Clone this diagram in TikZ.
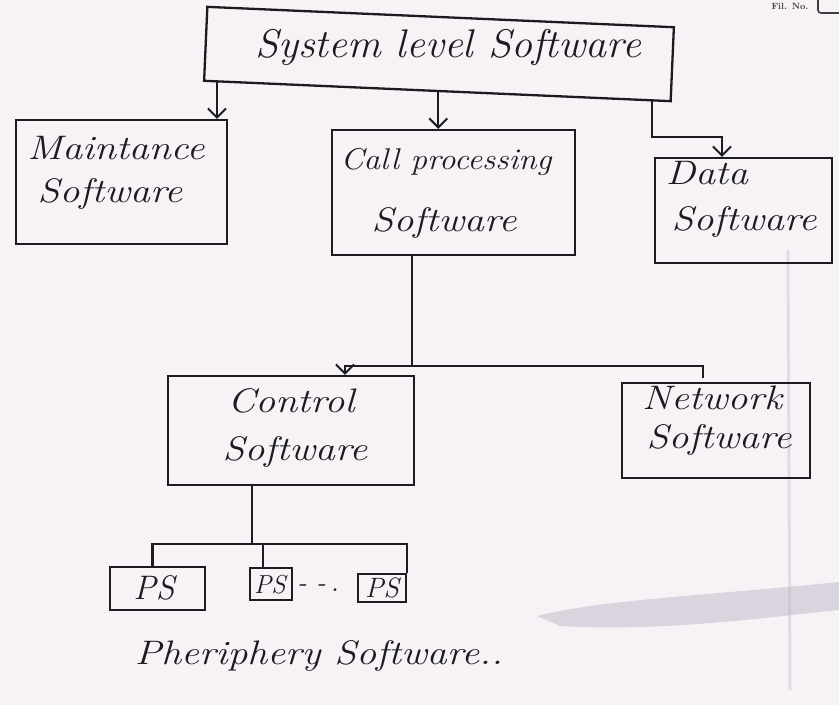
\documentclass[tikz,border=0pt]{standalone}
\usetikzlibrary{arrows.meta,calc}
\definecolor{paper}{HTML}{F6F2F6}
\definecolor{ink}{HTML}{1C1C20}
\definecolor{smudge}{HTML}{B8B0C2}
\definecolor{fold}{HTML}{E2DAE4}
% widened italic lettering
\newcommand\handwide[2][1.17]{\scalebox{#1}[1]{#2}}
\tikzset{
  hand/.style={font=\itshape\fontsize{34}{40}\selectfont, text=ink, inner sep=0pt, anchor=mid},
  box/.style={draw=ink, line width=2.3pt, rectangle, inner sep=0pt},
  wire/.style={draw=ink, line width=2.1pt},
  arr/.style={wire, -{Straight Barb[length=9pt,width=18pt,line width=2pt]}},
  pstext/.style={font=\itshape\fontsize{#1}{#1}\selectfont, text=ink, inner sep=0pt},
}
\begin{document}
\begin{tikzpicture}[x=1pt,y=-1pt]
% paper
\fill[paper] (0,0) rectangle (839,705);
\useasboundingbox (0,0) rectangle (839,705);

% scanner marks on the sheet
\draw[fold, line width=3pt] (788,250) -- (790,690);
\fill[smudge, opacity=0.45] (537,616) .. controls (600,600) and (700,596) .. (839,582)
  -- (839,610) .. controls (760,618) and (660,632) .. (560,626) -- cycle;

% page header
\node[font=\bfseries\fontsize{9}{10}\selectfont, text=ink!85, inner sep=0pt] (fileno) at (790,6) {Fil. No.};
\draw[ink!85, line width=1.6pt, rounded corners=3pt] (818,0) -- (818,13) -- (839,13);

% boxes
\node[box, minimum width=467pt, minimum height=74pt, rotate=-2.5] (sys) at (439,54) {};
\node[box, minimum width=211pt, minimum height=124pt] (mt) at (121.5,182) {};
\node[box, minimum width=243pt, minimum height=125pt] (cp) at (453.5,192.5) {};
\node[box, minimum width=177pt, minimum height=105pt] (data) at (743.5,210.5) {};
\node[box, minimum width=246pt, minimum height=109pt] (ctrl) at (291,430.5) {};
\node[box, minimum width=188pt, minimum height=95pt] (net) at (716,430.5) {};
\node[box, minimum width=95pt, minimum height=43pt] (ps1) at (157.5,588.5) {};
\node[box, minimum width=42pt, minimum height=32pt] (ps2) at (271,584) {};
\node[box, minimum width=48pt, minimum height=28pt] (ps3) at (382,588) {};

% labels
\node[hand, font=\itshape\fontsize{40}{46}\selectfont] (sysT) at (448,55) {\handwide[1.05]{System level Software}};
\node[hand] (mt1) at (116,157) {\handwide{Maintance}};
\node[hand] (mt2) at (110,200) {\handwide{Software}};
\node[hand, font=\itshape\fontsize{30}{36}\selectfont] (cp1) at (446,167) {\handwide[1.1]{Call processing}};
\node[hand] (cp2) at (444,229) {\handwide{Software}};
\node[hand] (data1) at (707,182) {\handwide{Data}};
\node[hand] (data2) at (744,228) {\handwide{Software}};
\node[hand] (ctrl1) at (291,410) {\handwide{Control}};
\node[hand] (ctrl2) at (295,458) {\handwide{Software}};
\node[hand] (net1) at (712,407) {\handwide{Network}};
\node[hand] (net2) at (719,446) {\handwide{Software}};
\node[pstext=34] (ps1T) at (154,588) {PS};
\node[pstext=26] (ps2T) at (270,585) {PS};
\node[pstext=28] (ps3T) at (382,588) {PS};
\node[pstext=28] (gap) at (318,588) {-\,\,-\,.};
\node[hand] (periph) at (319,662) {\handwide{Pheriphery Software..}};

% system level software to the three subsystems
\coordinate (s1) at ($(sys.south west)!0.03!(sys.south east)$);
\coordinate (s2) at ($(sys.south west)!0.502!(sys.south east)$);
\coordinate (s3) at ($(sys.south west)!0.958!(sys.south east)$);
\coordinate (d1) at ($(data.north)+(-21.5,-20)$);
\draw[arr] (s1) -- (s1 |- mt.north);
\draw[arr] (s2) -- (s2 |- cp.north);
\draw[arr] (s3) |- (d1) -- (d1 |- data.north);

% call processing to control and network software
\coordinate (hub) at ($(cp.south)+(-41.5,110)$);
\draw[wire] (cp.south -| hub) -- (hub);
\draw[arr] (hub) -| ($(ctrl.north)+(54,0)$);
\draw[wire] (hub) -| ($(net.north)+(-13,-4)$);

% control software to the peripheral software units
\coordinate (pbus) at ($(ctrl.south)+(-39,58)$);
\draw[wire] (ctrl.south -| pbus) -- (pbus);
\draw[wire] ($(ps1.north)+(-5,0)$) |- (pbus -| ps3.north east) -- (ps3.north east);
\draw[wire] (pbus -| ps2.north) ++(-8,0) -- ($(ps2.north)+(-8,0)$);
\end{tikzpicture}
\end{document}
